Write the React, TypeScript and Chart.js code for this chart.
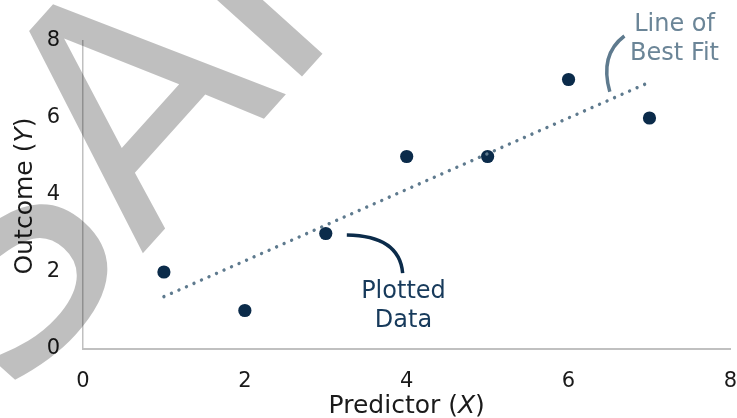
import React, { useEffect, useRef } from "react";
import { Chart, registerables } from "chart.js";

Chart.register(...registerables);

// ---- data ----
const xValues = [1, 2, 3, 4, 5, 6, 7];
const yValues = [2, 1, 3, 5, 5, 7, 6];
const fitX = [1, 7];
const fitY = [1.36, 6.93];
const xTickValues = [0, 2, 4, 6, 8];
const yTickValues = [0, 2, 4, 6, 8];

// ---- texts ----
const xTitleParts = ["Predictor (", "X", ")"];
const yTitleParts = ["Outcome (", "Y", ")"];
const fitLabelLines = ["Line of", "Best Fit"];
const dataLabelLines = ["Plotted", "Data"];
const watermarkText = "SAMPLE";

// ---- annotation anchors (in data units) ----
const fitLabelX = 7.31;
const fitLabelY = [8.26, 7.51];
const fitBracket = [
  [6.69, 8.13],
  [6.38, 7.64],
  [6.51, 6.68],
];
const dataLabelX = 3.96;
const dataLabelY = [1.32, 0.57];
const dataBracket = [
  [3.26, 2.96],
  [3.91, 2.94],
  [3.95, 1.97],
];

const FONT = '"DejaVu Sans", sans-serif';
const NAVY = "#0b2b4a";
const SLATE = "#5e7a8e";

function drawMixed(ctx: CanvasRenderingContext2D, parts: string[], cx: number, cy: number, size: number) {
  const normal = `${size}px ${FONT}`;
  const italic = `italic ${size}px ${FONT}`;
  const fonts = parts.map((_, i) => (i === 1 ? italic : normal));
  let total = 0;
  const widths = parts.map((p, i) => {
    ctx.font = fonts[i];
    const w = ctx.measureText(p).width;
    total += w;
    return w;
  });
  let x = cx - total / 2;
  ctx.textAlign = "left";
  ctx.textBaseline = "alphabetic";
  parts.forEach((p, i) => {
    ctx.font = fonts[i];
    ctx.fillText(p, x, cy);
    x += widths[i];
  });
}

const overlayPlugin = {
  id: "overlay",
  afterDraw(chart: any) {
    const { ctx, scales, chartArea } = chart;
    const xs = scales.x;
    const ys = scales.y;
    const px = (v: number) => xs.getPixelForValue(v);
    const py = (v: number) => ys.getPixelForValue(v);
    ctx.save();

    // brackets
    ctx.lineCap = "butt";
    ctx.lineWidth = 3.5;
    ctx.strokeStyle = SLATE;
    ctx.beginPath();
    ctx.moveTo(px(fitBracket[0][0]), py(fitBracket[0][1]));
    ctx.quadraticCurveTo(px(fitBracket[1][0]), py(fitBracket[1][1]), px(fitBracket[2][0]), py(fitBracket[2][1]));
    ctx.stroke();

    ctx.strokeStyle = NAVY;
    ctx.beginPath();
    ctx.moveTo(px(dataBracket[0][0]), py(dataBracket[0][1]));
    ctx.quadraticCurveTo(px(dataBracket[1][0]), py(dataBracket[1][1]), px(dataBracket[2][0]), py(dataBracket[2][1]));
    ctx.stroke();

    // annotation labels
    ctx.font = `24px ${FONT}`;
    ctx.textAlign = "center";
    ctx.textBaseline = "alphabetic";
    ctx.fillStyle = "#6b8597";
    fitLabelLines.forEach((t, i) => ctx.fillText(t, px(fitLabelX), py(fitLabelY[i])));
    ctx.fillStyle = "#173a5b";
    dataLabelLines.forEach((t, i) => ctx.fillText(t, px(dataLabelX), py(dataLabelY[i])));

    // axis titles
    ctx.fillStyle = "#1a1a1a";
    drawMixed(ctx, xTitleParts, (chartArea.left + chartArea.right) / 2, 413, 25);
    ctx.save();
    ctx.translate(32, (chartArea.top + chartArea.bottom) / 2 + 1);
    ctx.rotate(-Math.PI / 2);
    drawMixed(ctx, yTitleParts, 0, 0, 25);
    ctx.restore();

    // watermark
    ctx.save();
    ctx.translate(8, 403);
    ctx.rotate((-48 * Math.PI) / 180);
    ctx.font = `320px ${FONT}`;
    try {
      (ctx as any).letterSpacing = "-10px";
    } catch (e) {}
    ctx.textAlign = "left";
    ctx.textBaseline = "alphabetic";
    ctx.fillStyle = "rgba(0,0,0,0.25)";
    ctx.fillText(watermarkText, 0, 0);
    ctx.restore();

    ctx.restore();
  },
};

export default function App() {
  const ref = useRef<HTMLCanvasElement | null>(null);

  useEffect(() => {
    document.body.style.margin = "0";
    const canvas = ref.current!;
    const chart = new Chart(canvas, {
      type: "scatter",
      data: {
        datasets: [
          {
            type: "line",
            label: "Line of Best Fit",
            data: fitX.map((x, i) => ({ x, y: fitY[i] })),
            borderColor: SLATE,
            borderWidth: 3.4,
            borderDash: [0.01, 8.2],
            borderCapStyle: "round",
            pointRadius: 0,
            fill: false,
            order: 0,
          } as any,
          {
            type: "scatter",
            label: "Plotted Data",
            data: xValues.map((x, i) => ({ x, y: yValues[i] })),
            backgroundColor: NAVY,
            borderWidth: 0,
            pointRadius: 6.6,
            order: 1,
          },
        ],
      },
      options: {
        responsive: false,
        animation: false,
        events: [],
        layout: { padding: { top: 41, right: 6, left: 0, bottom: 0 } },
        plugins: { legend: { display: false }, tooltip: { enabled: false } },
        scales: {
          x: {
            type: "linear",
            min: 0,
            max: 8,
            grid: { display: false, drawTicks: false },
            border: { display: true, color: "#c0c0c0", width: 2 },
            afterBuildTicks: (s: any) => {
              s.ticks = xTickValues.map((v) => ({ value: v }));
            },
            afterFit: (s: any) => {
              s.height = 69;
              s.paddingLeft = 0;
              s.paddingRight = 0;
            },
            ticks: {
              padding: 20,
              color: "#1a1a1a",
              font: { family: FONT, size: 21 },
              maxRotation: 0,
              autoSkip: false,
            },
          },
          y: {
            type: "linear",
            min: 0,
            max: 8,
            grid: { display: false, drawTicks: false },
            border: { display: true, color: "#c0c0c0", width: 1.5 },
            afterBuildTicks: (s: any) => {
              s.ticks = yTickValues.map((v) => ({ value: v }));
            },
            afterFit: (s: any) => {
              s.width = 83;
              s.paddingTop = 0;
              s.paddingBottom = 0;
            },
            ticks: {
              padding: 23,
              color: "#1a1a1a",
              font: { family: FONT, size: 21 },
              autoSkip: false,
            },
          },
        },
      },
      plugins: [overlayPlugin],
    });
    return () => chart.destroy();
  }, []);

  return (
    <div style={{ position: "absolute", left: 0, top: 0, width: 737, height: 418 }}>
      <canvas ref={ref} width={737} height={418} style={{ display: "block" }} />
    </div>
  );
}
